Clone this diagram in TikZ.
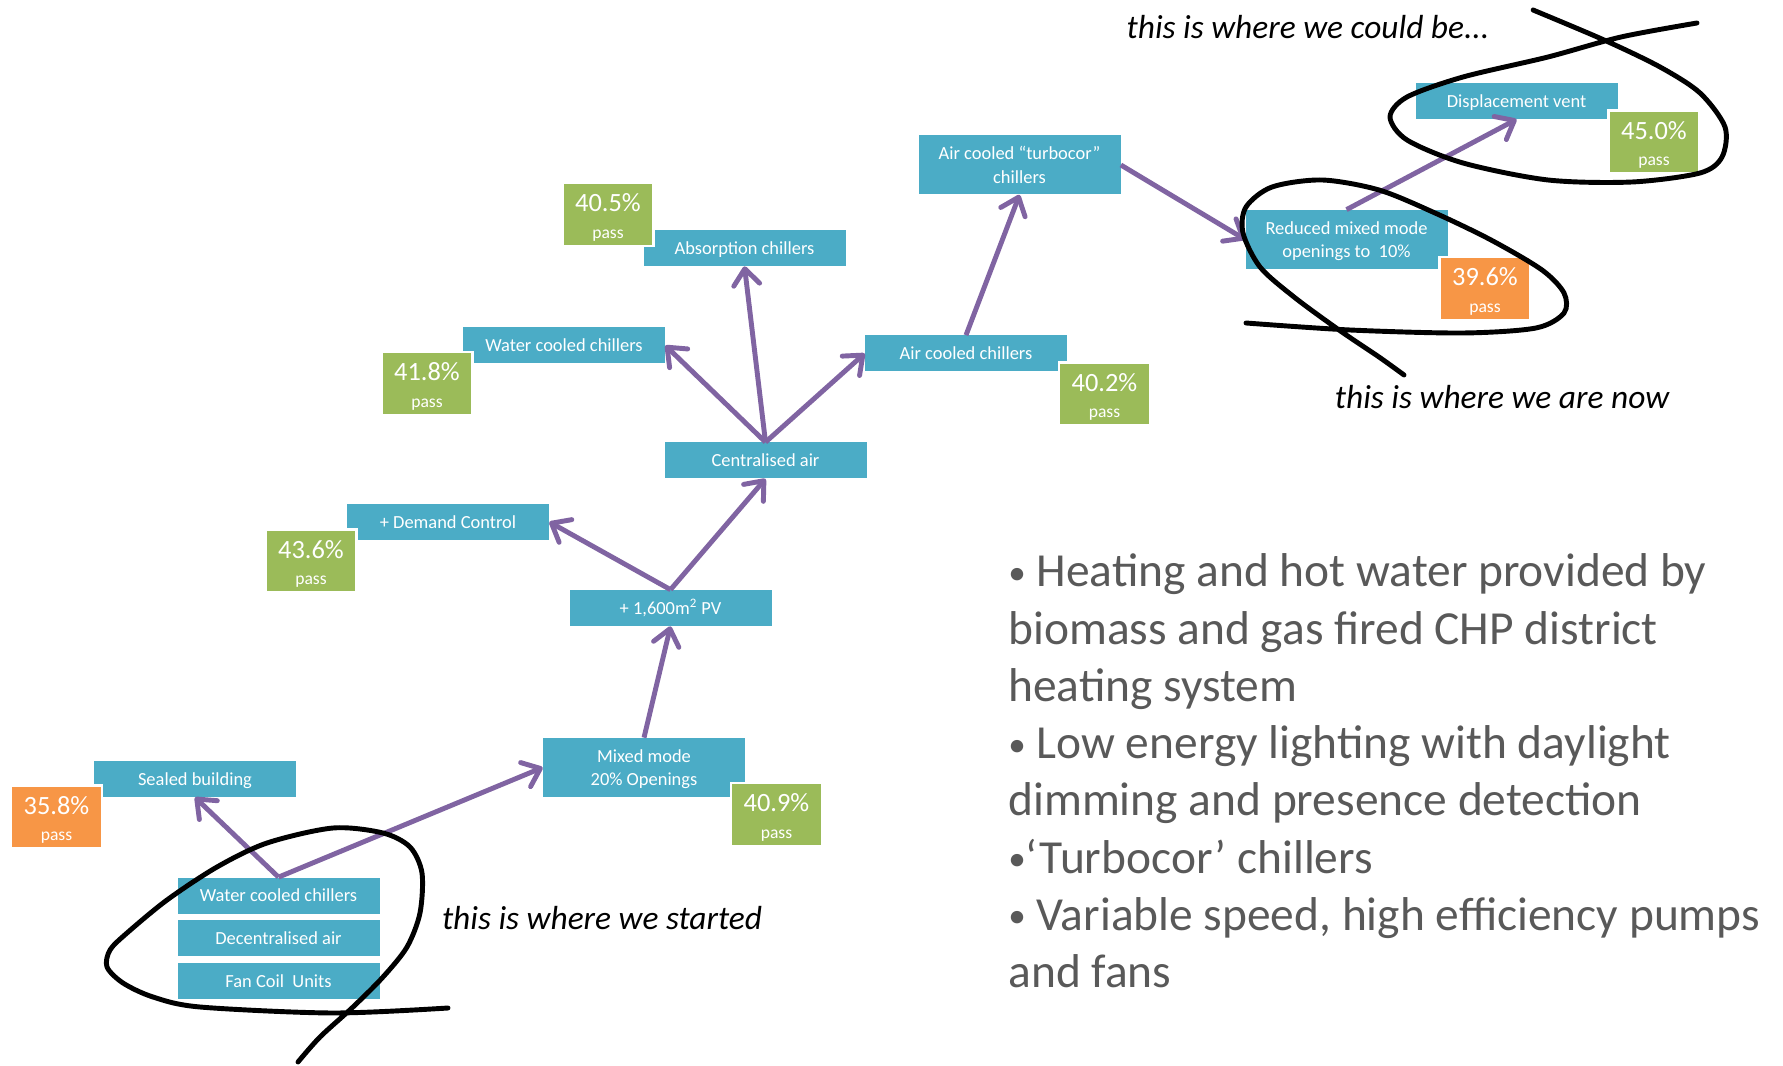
\documentclass[tikz,border=0pt]{standalone}
\usepackage{fontspec}
\setmainfont{Carlito}
\usetikzlibrary{arrows.meta, positioning}
\definecolor{boxblue}{RGB}{75, 172, 198}
\definecolor{passgreen}{RGB}{155, 187, 89}
\definecolor{passorange}{RGB}{247, 150, 70}
\definecolor{arrowpurple}{RGB}{128, 100, 162}
\definecolor{bodygrey}{RGB}{89, 89, 89}
\newcommand{\passmark}[1]{{\fontsize{15}{15}\selectfont\rule{0pt}{13.5pt}#1\%}\\[3pt]{\fontsize{10}{10}\selectfont pass}}
\newcommand{\dotmark}{\raisebox{1.5pt}{\fontsize{20}{20}\selectfont\textbullet}}

\begin{document}
\begin{tikzpicture}[
    choice/.style={
        fill=boxblue, text=white, minimum width=4.04cm, minimum height=0.72cm,
        inner sep=0pt, align=center, font=\fontsize{10.5}{13.5}\selectfont,
        text height=7.5pt, text depth=0.2pt
    },
    tall/.style={minimum height=1.18cm, text height={}, text depth=0pt},
    passbox/.style={
        fill=passgreen, draw=white, line width=1.2pt, text=white,
        minimum width=1.82cm, minimum height=1.26cm, inner sep=0pt, align=center
    },
    failbox/.style={passbox, fill=passorange},
    link/.style={-{Straight Barb[length=0.32cm, width=0.52cm, round]}, arrowpurple, line width=2.8pt},
    scribble/.style={black, line width=2.8pt, line cap=round, line join=round},
    note/.style={font=\fontsize{19}{22}\selectfont\itshape}
]
\useasboundingbox (0, 0) rectangle (35.66, 21.3);

% Options
\node[choice] (sealed) at (3.90, 5.72) {Sealed building};
\node[choice] (wcc1) at (5.57, 3.39) {Water cooled chillers};
\node[choice] (decair) at (5.57, 2.54) {Decentralised air};
\node[choice] (fcu) at (5.57, 1.68) {Fan Coil \ Units};
\node[choice, tall] (mixed) at (12.88, 5.95) {Mixed mode\\20\% Openings};
\node[choice] (pv) at (13.41, 9.14) {+ 1,600m\textsuperscript{2} PV};
\node[choice] (demand) at (8.96, 10.86) {+ Demand Control};
\node[choice] (central) at (15.31, 12.09) {Centralised air};
\node[choice] (wcc2) at (11.28, 14.39) {Water cooled chillers};
\node[choice] (absorb) at (14.89, 16.34) {Absorption chillers};
\node[choice] (aircc) at (19.32, 14.23) {Air cooled chillers};
\node[choice, tall] (turbo) at (20.39, 18.00) {Air cooled ``turbocor''\\chillers};
\node[choice, tall] (reduced) at (26.93, 16.51) {Reduced mixed mode\\openings to \ 10\%};
\node[choice] (displace) at (30.33, 19.28) {Displacement vent};

% Results
\node[failbox] (p358) at (1.13, 4.96) {\passmark{35.8}};
\node[passbox] (p409) at (15.53, 5.01) {\passmark{40.9}};
\node[passbox] (p436) at (6.22, 10.08) {\passmark{43.6}};
\node[passbox] (p418) at (8.54, 13.63) {\passmark{41.8}};
\node[passbox] (p405) at (12.16, 17.01) {\passmark{40.5}};
\node[passbox] (p402) at (22.09, 13.42) {\passmark{40.2}};
\node[failbox] (p396) at (29.70, 15.53) {\passmark{39.6}};
\node[passbox] (p450) at (33.08, 18.46) {\passmark{45.0}};

% Steps
\draw[link] (wcc1.north) -- (sealed.south);
\draw[link] (wcc1.north) -- (mixed.west);
\draw[link] (mixed.north) -- (pv.south);
\draw[link] (pv.north) -- (demand.east);
\draw[link] (pv.north) -- (central.south);
\draw[link] (central.north) -- (wcc2.east);
\draw[link] (central.north) -- (absorb.south);
\draw[link] (central.north) -- (aircc.west);
\draw[link] (aircc.north) -- (turbo.south);
\draw[link] (turbo.east) -- (reduced.west);
\draw[link] (reduced.north) -- (displace.south);

% Hand drawn rings
\draw[scribble] plot[smooth] coordinates {
    (8.96, 1.14) (6.66, 1.04) (4.00, 1.16) (3.06, 1.36) (2.46, 1.64) (2.14, 1.96)
    (2.20, 2.30) (2.54, 2.64) (3.34, 3.30) (4.34, 3.96) (5.34, 4.44) (6.66, 4.74)
    (7.66, 4.64) (8.20, 4.36) (8.44, 3.84) (8.40, 3.04) (8.14, 2.36) (7.66, 1.76)
    (7.06, 1.16) (6.40, 0.56) (5.96, 0.06)};
\draw[scribble] plot[smooth] coordinates {
    (30.66, 21.10) (32.08, 20.50) (33.20, 19.96) (34.00, 19.44) (34.50, 18.76)
    (34.44, 18.16) (34.00, 17.84) (32.64, 17.66) (30.96, 17.70) (29.26, 18.04)
    (28.14, 18.50) (27.80, 18.96) (28.14, 19.36) (29.26, 19.76) (30.96, 20.16)
    (32.42, 20.56) (33.94, 20.84)};
\draw[scribble] plot[smooth] coordinates {
    (24.92, 14.84) (27.00, 14.70) (29.26, 14.64) (30.72, 14.74) (31.28, 15.04)
    (31.28, 15.44) (30.84, 15.90) (29.82, 16.50) (28.70, 17.04) (27.58, 17.50)
    (26.44, 17.70) (25.44, 17.56) (24.92, 17.16) (24.86, 16.64) (25.20, 15.96)
    (25.88, 15.36) (26.78, 14.70) (27.58, 14.16) (28.08, 13.80)};

% Notes
\node[note] (started) at (12.04, 2.94) {this is where we started};
\node[note] (now) at (30.04, 13.36) {this is where we are now};
\node[note] (could) at (26.16, 20.76) {this is where we could be...};

% Summary
\node[anchor=north west, inner sep=0pt, align=left, text=bodygrey,
      font=\fontsize{27}{32.6}\selectfont] (summary) at (20.16, 10.23)
    {\dotmark\ Heating and hot water provided by\\
     biomass and gas fired CHP district\\
     heating system\\
     \dotmark\ Low energy lighting with daylight\\
     dimming and presence detection\\
     \dotmark`Turbocor' chillers\\
     \dotmark\ Variable speed, high efficiency pumps\\
     and fans};

\end{tikzpicture}
\end{document}
